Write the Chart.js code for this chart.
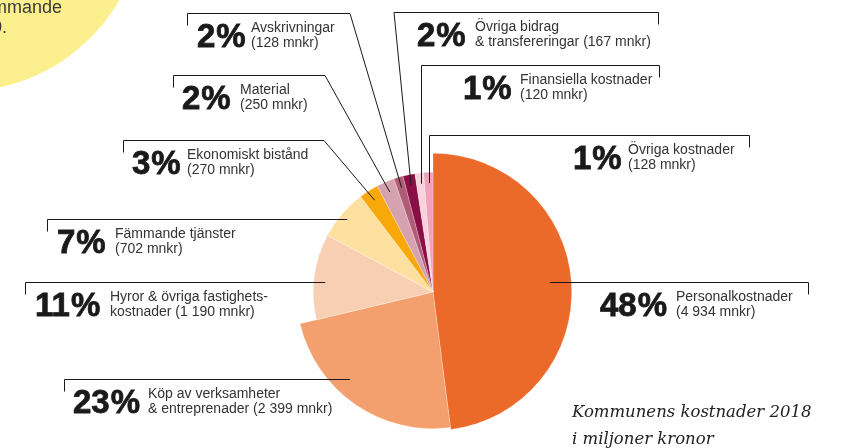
<!DOCTYPE html>
<html>
<head>
<meta charset="utf-8">
<script src="https://cdn.jsdelivr.net/npm/chart.js@4.4.1/dist/chart.umd.min.js"></script>
<style>
  html, body { margin: 0; padding: 0; background: #fff; }
  canvas { display: block; }
</style>
</head>
<body>
<canvas id="kostnader" width="846" height="448"></canvas>
<script>
// kostnader 2018, mnkr
var categories = ['Personalkostnader', 'Köp av verksamheter & entreprenader', 'Hyror & övriga fastighetskostnader',
  'Fämmande tjänster', 'Ekonomiskt bistånd', 'Material', 'Avskrivningar',
  'Övriga bidrag & transfereringar', 'Finansiella kostnader', 'Övriga kostnader'];
var values = [4934, 2399, 1190, 702, 270, 250, 128, 167, 120, 128];
var percentLabels = ['48', '23', '11', '7', '3', '2', '2', '2', '1', '1'];
var textTop = ['Personalkostnader', 'Köp av verksamheter', 'Hyror & övriga fastighets-', 'Fämmande tjänster',
  'Ekonomiskt bistånd', 'Material', 'Avskrivningar', 'Övriga bidrag', 'Finansiella kostnader', 'Övriga kostnader'];
var textBottomPrefix = ['', '& entreprenader ', 'kostnader ', '', '', '', '', '& transfereringar ', '', ''];

var colors = ['#eb6a2a', '#f4a06e', '#f9cfb3', '#fddfa0', '#f9a80a', '#d6a2b0', '#b05c77', '#8a0f45', '#f9d2dd', '#efa2ba'];
var radiusScale = [1, 0.985, 0.863, 0.863, 0.863, 0.863, 0.863, 0.863, 0.863, 0.863];

// callout frames: tick x, line y, elbow, text x positions, where on the slice the leader ends (t = along angle, r = of radius)
var callouts = [
  { tickX: 808, lineY: 282, elbow: 'flat', pctX: 600, textX: 676, t: 0.49, r: 0.845 },
  { tickX: 64,  lineY: 379, elbow: 'flat', pctX: 73,  textX: 148, t: 0.61, r: 0.865 },
  { tickX: 25,  lineY: 282, elbow: 'flat', pctX: 35,  textX: 110, t: 0.45, r: 0.78 },
  { tickX: 47,  lineY: 219, elbow: 'flat', pctX: 57,  textX: 115, t: 0.49, r: 0.81 },
  { tickX: 123, lineY: 140, elbow: 324,    pctX: 132, textX: 187, t: 0.5,  r: 0.785 },
  { tickX: 173, lineY: 75,  elbow: 325,    pctX: 182, textX: 240, t: 0.5,  r: 0.785 },
  { tickX: 187, lineY: 13,  elbow: 350,    pctX: 197, textX: 251, t: 0.5,  r: 0.785 },
  { tickX: 658, lineY: 12,  elbow: 394,    pctX: 417, textX: 475, t: 0.5,  r: 0.785 },
  { tickX: 659, lineY: 65,  elbow: 'drop', pctX: 463, textX: 520, t: 0.5,  r: 0.785 },
  { tickX: 749, lineY: 135, elbow: 'drop', pctX: 573, textX: 628, t: 0.5,  r: 0.785 }
];

function fmt(v) {
  return String(v).replace(/\B(?=(\d{3})+(?!\d))/g, ' ');
}

var bigFont = "bold 33px 'Liberation Sans', Arial, sans-serif";
var smallFont = "14px 'Liberation Sans', Arial, sans-serif";

var backdrop = {
  id: 'backdrop',
  beforeDraw: function(chart) {
    var ctx = chart.ctx;
    ctx.save();
    ctx.fillStyle = '#fff';
    ctx.fillRect(0, 0, chart.width, chart.height);
    ctx.fillStyle = '#fcef8e';
    ctx.beginPath();
    ctx.arc(-40, -92, 184, 0, Math.PI * 2);
    ctx.fill();
    ctx.fillStyle = '#3a3a3a';
    ctx.font = "18px 'Liberation Sans', Arial, sans-serif";
    ctx.textAlign = 'right';
    ctx.textBaseline = 'alphabetic';
    ctx.fillText('främmande', 62, 13);
    ctx.fillText('0.', 7, 33);
    ctx.restore();
  }
};

var sliceRadius = {
  id: 'sliceRadius',
  afterDatasetsUpdate: function(chart) {
    var meta = chart.getDatasetMeta(0);
    var base = meta.controller.outerRadius;
    meta.data.forEach(function(arc, i) {
      arc.outerRadius = base * radiusScale[i];
    });
  }
};

var callout = {
  id: 'callout',
  afterDatasetsDraw: function(chart) {
    var ctx = chart.ctx;
    var meta = chart.getDatasetMeta(0);
    var base = meta.controller.outerRadius;
    ctx.save();
    meta.data.forEach(function(arc, i) {
      var c = callouts[i];
      var a = arc.startAngle + c.t * (arc.endAngle - arc.startAngle);
      var ex = arc.x + Math.cos(a) * base * c.r;
      var ey = arc.y + Math.sin(a) * base * c.r;
      var ly = c.lineY + 0.5;
      ctx.strokeStyle = '#1a1a1a';
      ctx.lineWidth = 1;
      ctx.beginPath();
      ctx.moveTo(c.tickX + 0.5, ly + 12);
      ctx.lineTo(c.tickX + 0.5, ly);
      if (c.elbow === 'flat') {
        ctx.lineTo(ex, ly);
      } else if (c.elbow === 'drop') {
        ctx.lineTo(Math.round(ex) + 0.5, ly);
        ctx.lineTo(Math.round(ex) + 0.5, ey);
      } else {
        ctx.lineTo(c.elbow, ly);
        ctx.lineTo(ex, ey);
      }
      ctx.stroke();

      // big percentage, a little heavier than plain bold
      ctx.fillStyle = '#1a1a1a';
      ctx.strokeStyle = '#1a1a1a';
      ctx.lineWidth = 0.8;
      ctx.font = bigFont;
      ctx.textAlign = 'left';
      ctx.textBaseline = 'alphabetic';
      var by = c.lineY + 34;
      ctx.fillText(percentLabels[i], c.pctX, by);
      ctx.strokeText(percentLabels[i], c.pctX, by);
      var w = ctx.measureText(percentLabels[i]).width;
      ctx.fillText('%', c.pctX + w + 1, by);
      ctx.strokeText('%', c.pctX + w + 1, by);

      ctx.fillStyle = '#333';
      ctx.font = smallFont;
      ctx.textBaseline = 'middle';
      ctx.fillText(textTop[i], c.textX, c.lineY + 15);
      ctx.fillText(textBottomPrefix[i] + '(' + fmt(values[i]) + ' mnkr)', c.textX, c.lineY + 30);
    });

    ctx.fillStyle = '#222';
    ctx.font = "italic 16.5px 'DejaVu Serif', Georgia, serif";
    ctx.textAlign = 'left';
    ctx.textBaseline = 'middle';
    ctx.fillText('Kommunens kostnader 2018', 572, 413);
    ctx.fillText('i miljoner kronor', 572, 440);
    ctx.restore();
  }
};

new Chart(document.getElementById('kostnader').getContext('2d'), {
  type: 'pie',
  data: {
    labels: categories,
    datasets: [{
      data: values,
      backgroundColor: colors,
      borderColor: 'rgba(255,255,255,0.5)',
      borderWidth: 0.5
    }]
  },
  options: {
    responsive: false,
    animation: false,
    layout: { padding: { left: 294, right: 274, top: 153, bottom: 17 } },
    plugins: {
      legend: { display: false },
      tooltip: { enabled: false }
    }
  },
  plugins: [backdrop, sliceRadius, callout]
});
</script>
</body>
</html>
